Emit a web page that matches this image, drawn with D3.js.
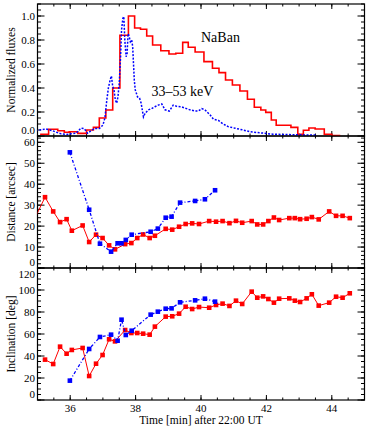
<!DOCTYPE html>
<html>
<head>
<meta charset="utf-8">
<script src="https://cdn.jsdelivr.net/npm/d3@7/dist/d3.min.js"></script>
<style>
  body { margin: 0; background: #fff; }
  text { font-family: "Liberation Serif", "DejaVu Serif", serif; fill: #000; }
</style>
</head>
<body>
<svg id="chart"></svg>
<script>
// ---- top panel: NaBan histogram (bin edges in min after 22:00, normalized flux per bin)
const nabanEdges = [35.08, 35.34, 35.62, 35.82, 35.97, 36.23, 36.50, 36.71, 36.89, 37.09, 37.30,
    37.52, 37.78, 37.97, 38.15, 38.34, 38.52, 38.77, 39.02, 39.23, 39.44, 39.61, 39.82, 40.09,
    40.35, 40.55, 40.75, 40.96, 41.19, 41.42, 41.63, 41.83, 41.98, 42.15, 42.30, 42.75, 42.96,
    43.13, 43.30, 43.49, 43.77, 44.00, 44.26];
const nabanFlux = [0.015, 0.056, 0.044, 0.031, 0.036, 0.022, 0.05, 0.072, 0.15, 0.217, 0.40,
    0.84, 1.0, 0.90, 0.89, 0.833, 0.758, 0.71, 0.683, 0.69, 0.78, 0.74, 0.70, 0.62, 0.564,
    0.528, 0.467, 0.425, 0.375, 0.306, 0.24, 0.217, 0.197, 0.133, 0.09, 0.072, 0.014, 0.048,
    0.067, 0.058, 0.014, 0.003];

// ---- top panel: 33-53 keV light curve
const hxrTime = [34.95, 35.10, 35.26, 35.46, 35.59, 35.72, 35.87, 36.02, 36.18, 36.33,
    36.43, 36.53, 36.64, 36.74, 36.89, 37.00, 37.06, 37.12, 37.17, 37.22,
    37.26, 37.30, 37.34, 37.38, 37.42, 37.46, 37.50, 37.54, 37.57, 37.61,
    37.64, 37.67, 37.71, 37.74, 37.77, 37.80, 37.84, 37.88, 37.91, 37.96,
    37.99, 38.06, 38.12, 38.17, 38.24, 38.29, 38.39, 38.49, 38.59, 38.69,
    38.80, 38.90, 39.03, 39.15, 39.26, 39.41, 39.56, 39.66, 39.82, 39.92,
    40.02, 40.12, 40.28, 40.38, 40.53, 40.68, 40.83, 41.04, 41.29, 41.50,
    41.80, 42.20, 42.60, 43.00, 43.30, 43.50];
const hxrFlux = [0.044, 0.052, 0.059, 0.044, 0.030, 0.018, 0.013, 0.018, 0.023, 0.066,
    0.062, 0.023, 0.044, 0.062, 0.062, 0.091, 0.148, 0.30, 0.404, 0.466,
    0.50, 0.414, 0.384, 0.30, 0.273, 0.326, 0.439, 0.661, 0.883, 0.98,
    0.995, 0.80, 0.661, 0.687, 0.853, 0.834, 0.785, 0.80, 0.746, 0.466,
    0.384, 0.326, 0.316, 0.273, 0.159, 0.189, 0.218, 0.228, 0.244, 0.257,
    0.267, 0.218, 0.208, 0.257, 0.247, 0.242, 0.228, 0.218, 0.208, 0.208,
    0.228, 0.218, 0.175, 0.14, 0.13, 0.10, 0.078, 0.065, 0.05, 0.035,
    0.027, 0.015, 0.012, 0.01, 0.008, 0.008];

// ---- red source (middle + bottom panels)
const redTime = [35.23, 35.48, 35.69, 35.89, 36.05, 36.38, 36.58, 36.79, 36.99, 37.19,
    37.37, 37.68, 37.87, 38.05, 38.23, 38.43, 38.59, 38.92, 39.12, 39.33,
    39.53, 39.73, 39.94, 40.25, 40.46, 40.66, 40.87, 41.07, 41.26, 41.55,
    41.72, 41.90, 42.06, 42.23, 42.39, 42.70, 42.87, 43.03, 43.23, 43.39,
    43.60, 43.92, 44.13, 44.33, 44.55];
const redDistance = [33.8, 27.0, 21.9, 23.3, 17.8, 20.3, 12.4, 15.9, 14.3, 10.8,
    8.9, 11.4, 11.9, 14.3, 16.0, 14.3, 15.4, 18.7, 18.3, 19.7,
    21.0, 21.3, 21.0, 22.4, 22.1, 22.4, 21.4, 22.5, 21.6, 22.4,
    20.8, 20.8, 22.4, 24.1, 22.9, 23.8, 23.8, 23.3, 23.5, 24.3,
    23.2, 27.0, 24.9, 24.9, 23.8];
// the distance curve enters from outside the left edge
const redDistanceLead = [34.9, 23.1];
const redInclination = [36.7, 32.7, 48.5, 42.1, 45.5, 47.3, 21.8, 33.0, 40.9, 55.2,
    53.3, 63.6, 60.9, 60.9, 60.3, 59.4, 66.7, 75.8, 76.1, 78.5,
    84.8, 82.7, 84.5, 83.9, 86.4, 87.6, 85.5, 90.3, 87.3, 98.5,
    93.0, 94.2, 91.8, 88.5, 92.1, 92.4, 90.3, 89.1, 92.4, 96.1,
    85.8, 88.5, 93.9, 93.0, 97.0];

// ---- blue source (middle + bottom panels)
const blueTime = [35.99, 36.58, 36.91, 37.25, 37.45, 37.57, 37.70, 37.88,
    38.46, 38.68, 38.92, 39.10, 39.36, 39.82, 40.12, 40.43];
const blueDistance = [55.2, 27.8, 11.6, 7.8, 11.8, 11.8, 13.4, 15.9,
    17.3, 18.8, 24.0, 24.5, 31.2, 32.0, 32.8, 37.1];
const blueInclination = [17.6, 46.4, 57.3, 59.4, 53.9, 73.0, 59.1, 63.0,
    77.6, 80.3, 83.0, 83.3, 88.8, 90.6, 92.1, 89.4];

// ---- layout
const width = 376, height = 426;
const left = 37.5, right = 364.5;
const panelTops = [4, 136, 268];
const panelH = 132;
const RED = "#ff0000", BLUE = "#0000ff";

const svg = d3.select("#chart").attr("width", width).attr("height", height);

const x = d3.scaleLinear().domain([35, 45]).range([left, right]);

// draws box, inward ticks on all four sides and the y labels of one panel
const drawPanel = (idx, yDomain, major, minor, fmt, title) => {
    const top = panelTops[idx], bottom = top + panelH;
    const y = d3.scaleLinear().domain(yDomain).range([bottom, top]);
    const g = svg.append("g").attr("class", "panel" + idx);

    g.append("clipPath").attr("id", "clip" + idx)
        .append("rect").attr("x", left).attr("y", top)
        .attr("width", right - left).attr("height", panelH);

    // y ticks
    const eps = 1e-6;
    const yMinor = d3.range(yDomain[0], yDomain[1] + eps, minor);
    const yMajor = d3.range(yDomain[0], yDomain[1] + eps, major);
    const tickLine = (v, len) => {
        g.append("line").attr("x1", left).attr("x2", left + len)
            .attr("y1", y(v)).attr("y2", y(v)).attr("stroke", "#000");
        g.append("line").attr("x1", right).attr("x2", right - len)
            .attr("y1", y(v)).attr("y2", y(v)).attr("stroke", "#000");
    };
    yMinor.forEach(v => tickLine(v, 3.5));
    yMajor.forEach(v => tickLine(v, 7));

    // end labels are pulled inside the panel so neighbours don't collide
    g.selectAll(".ylab").data(yMajor).enter().append("text")
        .attr("class", "ylab")
        .attr("x", left - 2.5)
        .attr("y", d => Math.max(top + 6.5, Math.min(bottom - 6, y(d))))
        .attr("dy", "0.35em")
        .attr("text-anchor", "end")
        .attr("font-size", 11)
        .text(d => fmt(d));

    // x ticks (top and bottom of each panel)
    const xMinor = d3.range(35, 45.001, 0.5);
    const xMajor = d3.range(36, 44.001, 2);
    const xTick = (v, len) => {
        g.append("line").attr("x1", x(v)).attr("x2", x(v))
            .attr("y1", bottom).attr("y2", bottom - len).attr("stroke", "#000");
        g.append("line").attr("x1", x(v)).attr("x2", x(v))
            .attr("y1", top).attr("y2", top + len).attr("stroke", "#000");
    };
    xMinor.forEach(v => xTick(v, 2.5));
    xMajor.forEach(v => xTick(v, 5));

    g.append("rect").attr("x", left).attr("y", top)
        .attr("width", right - left).attr("height", panelH)
        .attr("fill", "none").attr("stroke", "#000").attr("stroke-width", 1.2);

    // rotated y title
    g.append("text")
        .attr("transform", `translate(15, ${top + panelH / 2}) rotate(-90)`)
        .attr("text-anchor", "middle")
        .attr("font-size", 11.5)
        .text(title);

    return { y, g, clip: `url(#clip${idx})` };
};

const p1 = drawPanel(0, [0, 1.1], 0.2, 0.05, d3.format(".1f"), "Normalized fluxes");
const p2 = drawPanel(1, [0, 63], 10, 2, d3.format("d"), "Distance [arcsec]");
const p3 = drawPanel(2, [0, 120], 20, 5, d3.format("d"), "Inclination [deg]");

// ---- top panel curves
const nabanPts = nabanEdges.map((e, i) => [e, nabanFlux[Math.min(i, nabanFlux.length - 1)]]);
p1.g.append("path")
    .datum(nabanPts)
    .attr("clip-path", p1.clip)
    .attr("d", d3.line().x(d => x(d[0])).y(d => p1.y(d[1])).curve(d3.curveStepAfter))
    .attr("fill", "none").attr("stroke", RED).attr("stroke-width", 1.6);

p1.g.append("path")
    .datum(d3.zip(hxrTime, hxrFlux))
    .attr("clip-path", p1.clip)
    .attr("d", d3.line().x(d => x(d[0])).y(d => p1.y(d[1])))
    .attr("fill", "none").attr("stroke", BLUE).attr("stroke-width", 1.5)
    .attr("stroke-dasharray", "2,1.5");

p1.g.append("text").attr("x", 201).attr("y", 41.5).attr("font-size", 14).text("NaBan");
p1.g.append("text").attr("x", 151.5).attr("y", 96).attr("font-size", 14).text("33\u201353 keV");

// ---- line + square markers
const drawSeries = (panel, pts, color, dash, width) => {
    const line = d3.line().x(d => x(d[0])).y(d => panel.y(d[1]));
    panel.g.append("path")
        .datum(pts)
        .attr("clip-path", panel.clip)
        .attr("d", line)
        .attr("fill", "none").attr("stroke", color).attr("stroke-width", width)
        .attr("stroke-dasharray", dash);
    panel.g.append("g").attr("clip-path", panel.clip)
        .selectAll("rect").data(pts).enter().append("rect")
        .attr("x", d => x(d[0]) - 2.3)
        .attr("y", d => panel.y(d[1]) - 2.3)
        .attr("width", 4.6).attr("height", 4.6)
        .attr("fill", color);
};

drawSeries(p2, [redDistanceLead].concat(d3.zip(redTime, redDistance)), RED, null, 1);
drawSeries(p2, d3.zip(blueTime, blueDistance), BLUE, "3,2,1,2", 1.3);
drawSeries(p3, d3.zip(redTime, redInclination), RED, null, 1);
drawSeries(p3, d3.zip(blueTime, blueInclination), BLUE, "3,2,1,2", 1.3);

// ---- x axis labels on bottom panel
const bottomY = panelTops[2] + panelH;
svg.selectAll(".xlab").data(d3.range(36, 44.001, 2)).enter().append("text")
    .attr("class", "xlab")
    .attr("x", d => x(d))
    .attr("y", bottomY + 12)
    .attr("text-anchor", "middle")
    .attr("font-size", 11)
    .text(d => d);

svg.append("text")
    .attr("x", (left + right) / 2)
    .attr("y", bottomY + 24)
    .attr("text-anchor", "middle")
    .attr("font-size", 11.5)
    .text("Time [min] after 22:00 UT");
</script>
</body>
</html>
